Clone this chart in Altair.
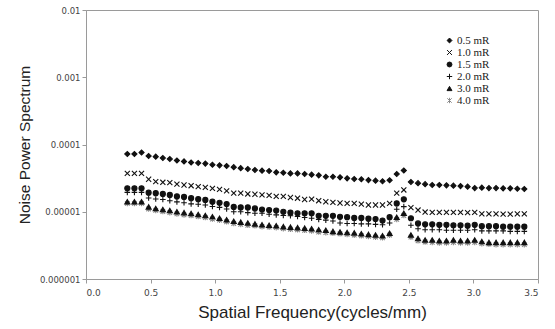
import altair as alt
import pandas as pd

freq = [0.320, 0.375, 0.430, 0.485, 0.540, 0.595, 0.649, 0.704, 0.759, 0.814,
        0.869, 0.924, 0.979, 1.034, 1.089, 1.144, 1.198, 1.253, 1.308, 1.363,
        1.418, 1.473, 1.528, 1.583, 1.638, 1.693, 1.747, 1.802, 1.857, 1.912,
        1.967, 2.022, 2.077, 2.132, 2.187, 2.242, 2.296, 2.351, 2.406, 2.461,
        2.516, 2.571, 2.626, 2.681, 2.736, 2.791, 2.845, 2.900, 2.955, 3.010,
        3.065, 3.120, 3.175, 3.230, 3.285, 3.340, 3.394]

# values in units of 1e-5
nps_05 = [7.22, 7.22, 7.60, 6.75, 6.60, 6.30, 6.09, 5.78, 5.60, 5.40,
          5.31, 5.20, 5.00, 4.90, 4.79, 4.60, 4.45, 4.32, 4.18, 4.08,
          4.04, 3.86, 3.80, 3.72, 3.72, 3.64, 3.56, 3.48, 3.31, 3.31,
          3.25, 3.14, 3.07, 3.04, 2.96, 2.90, 2.84, 2.94, 3.64, 4.11,
          2.77, 2.66, 2.57, 2.50, 2.50, 2.47, 2.44, 2.41, 2.36, 2.25,
          2.28, 2.25, 2.25, 2.23, 2.23, 2.20, 2.18]
nps_10 = [3.72, 3.72, 3.72, 3.04, 2.80, 2.74, 2.71, 2.57, 2.50, 2.44,
          2.36, 2.30, 2.23, 2.15, 2.04, 1.89, 1.89, 1.84, 1.82, 1.78,
          1.75, 1.69, 1.69, 1.63, 1.59, 1.52, 1.54, 1.46, 1.41, 1.38,
          1.35, 1.33, 1.33, 1.30, 1.26, 1.26, 1.26, 1.33, 1.89, 2.11,
          1.15, 1.06, 0.99, 0.98, 0.98, 0.98, 0.98, 0.98, 0.97, 0.98,
          0.93, 0.93, 0.93, 0.92, 0.92, 0.93, 0.93]
nps_15 = [2.23, 2.23, 2.23, 1.92, 1.89, 1.84, 1.78, 1.69, 1.66, 1.59,
          1.54, 1.50, 1.41, 1.36, 1.30, 1.18, 1.16, 1.16, 1.12, 1.08,
          1.06, 1.04, 1.00, 0.97, 0.95, 0.95, 0.95, 0.87, 0.87, 0.87,
          0.84, 0.83, 0.81, 0.81, 0.79, 0.78, 0.74, 0.83, 1.33, 1.53,
          0.80, 0.67, 0.65, 0.65, 0.64, 0.64, 0.63, 0.63, 0.62, 0.64,
          0.61, 0.61, 0.61, 0.60, 0.60, 0.60, 0.60]
nps_20 = [1.94, 1.94, 1.94, 1.60, 1.55, 1.52, 1.46, 1.40, 1.36, 1.31,
          1.29, 1.26, 1.20, 1.16, 1.10, 1.00, 1.00, 0.97, 0.95, 0.95,
          0.92, 0.90, 0.88, 0.87, 0.85, 0.82, 0.80, 0.77, 0.75, 0.73,
          0.68, 0.67, 0.67, 0.66, 0.66, 0.65, 0.64, 0.68, 1.09, 1.19,
          0.63, 0.56, 0.54, 0.54, 0.54, 0.53, 0.53, 0.53, 0.53, 0.54,
          0.52, 0.52, 0.52, 0.52, 0.51, 0.51, 0.51]
nps_30 = [1.41, 1.41, 1.41, 1.18, 1.12, 1.08, 1.04, 1.00, 0.97, 0.94,
          0.91, 0.88, 0.84, 0.80, 0.76, 0.72, 0.70, 0.68, 0.66, 0.64,
          0.63, 0.62, 0.60, 0.59, 0.58, 0.57, 0.56, 0.54, 0.53, 0.51,
          0.50, 0.49, 0.485, 0.47, 0.46, 0.45, 0.44, 0.48, 0.83, 0.95,
          0.45, 0.40, 0.38, 0.38, 0.37, 0.37, 0.38, 0.37, 0.37, 0.38,
          0.36, 0.35, 0.35, 0.35, 0.35, 0.35, 0.35]
nps_40 = [1.33, 1.33, 1.33, 1.10, 1.05, 1.01, 0.97, 0.93, 0.90, 0.88,
          0.85, 0.82, 0.78, 0.75, 0.71, 0.67, 0.65, 0.63, 0.62, 0.60,
          0.59, 0.58, 0.56, 0.55, 0.54, 0.53, 0.52, 0.50, 0.49, 0.48,
          0.47, 0.46, 0.45, 0.44, 0.43, 0.42, 0.41, 0.45, 0.77, 0.88,
          0.42, 0.37, 0.355, 0.35, 0.345, 0.345, 0.35, 0.345, 0.345, 0.35,
          0.335, 0.33, 0.325, 0.325, 0.325, 0.325, 0.325]

series_names = ["0.5 mR", "1.0 mR", "1.5 mR", "2.0 mR", "3.0 mR", "4.0 mR"]
series_vals = [nps_05, nps_10, nps_15, nps_20, nps_30, nps_40]

shapes = ["diamond", "M-1,-1L1,1M-1,1L1,-1", "circle", "M-1.1,0L1.1,0M0,-1.1L0,1.1",
          "triangle-up", "M-0.9,-0.9L0.9,0.9M-0.9,0.9L0.9,-0.9M0,-1.1L0,1.1"]
fills = ["#111111", "transparent", "#111111", "transparent", "#111111", "transparent"]
strokes = ["#111111", "#111111", "#111111", "#111111", "#111111", "#8a8a8a"]

rows = []
# draw 4.0 mR first so it sits underneath
for name, vals in list(zip(series_names, series_vals))[::-1]:
    for f, v in zip(freq, vals):
        rows.append({"freq": f, "nps": v * 1e-5, "series": name})
df = pd.DataFrame(rows)

legend = alt.Legend(
    title=None, orient="none", legendX=358, legendY=25,
    labelFont="Liberation Serif", labelFontSize=11, labelColor="#222222",
    symbolSize=24, symbolStrokeWidth=1, rowPadding=0, labelOffset=2,
)

chart = alt.Chart(df).mark_point(size=26, strokeWidth=1.1, opacity=1).encode(
    x=alt.X("freq:Q", scale=alt.Scale(domain=[0, 3.5], nice=False, zero=False),
            axis=alt.Axis(values=[0, 0.5, 1, 1.5, 2, 2.5, 3, 3.5], format=".1f",
                          title="Spatial Frequency(cycles/mm)")),
    y=alt.Y("nps:Q", scale=alt.Scale(type="log", domain=[1e-6, 1e-2], nice=False),
            axis=alt.Axis(values=[1e-6, 1e-5, 1e-4, 1e-3, 1e-2], format=".6~f",
                          title="Noise Power Spectrum")),
    shape=alt.Shape("series:N", scale=alt.Scale(domain=series_names, range=shapes), legend=legend),
    fill=alt.Fill("series:N", scale=alt.Scale(domain=series_names, range=fills), legend=legend),
    stroke=alt.Stroke("series:N", scale=alt.Scale(domain=series_names, range=strokes), legend=legend),
).properties(
    width=452, height=269,
    autosize="none",
    background="white",
    padding={"left": 86, "top": 10, "right": 17, "bottom": 50},
).configure_view(
    stroke="#9a9a9a", strokeWidth=1
).configure_axis(
    grid=False, domainColor="#9a9a9a", tickColor="#9a9a9a", tickSize=4,
    labelFont="DejaVu Sans", labelColor="#444444",
    titleFont="Liberation Sans", titleFontWeight="normal", titleColor="#222222",
).configure_axisY(
    labelFontSize=8.5, titleFontSize=15.5, titlePadding=7, labelPadding=2,
).configure_axisX(
    labelFontSize=9, titleFontSize=17, titlePadding=7, labelPadding=5,
)

chart.save("out.html", embed_options={"renderer": "svg", "actions": False})
